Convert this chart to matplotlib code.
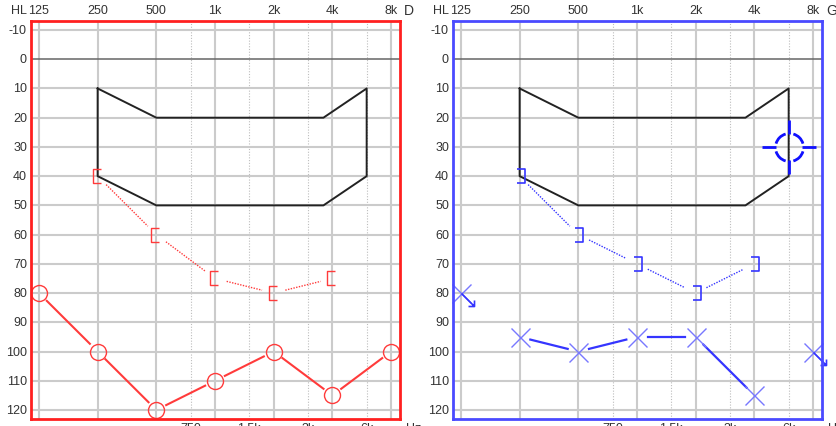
import numpy as np
import matplotlib
matplotlib.use("Agg")
import matplotlib.pyplot as plt
from matplotlib.path import Path

plt.rcParams['font.family'] = ['Liberation Sans', 'DejaVu Sans']

# axis scales
freqs = [125, 250, 500, 1000, 2000, 4000, 8000]
freq_labels = ['125', '250', '500', '1k', '2k', '4k', '8k']
half_freqs = [750, 1500, 3000, 6000]
half_labels = ['750', '1.5k', '3k', '6k']
levels = list(range(-10, 121, 10))

# speech area outline (Hz, dB HL)
banana_f = [250, 500, 3600, 6000, 6000, 3600, 500, 250, 250]
banana_db = [10, 20, 20, 10, 40, 50, 50, 40, 10]

# right ear (D)
right_air_f = [125, 250, 500, 1000, 2000, 4000, 8000]
right_air_db = [80, 100, 120, 110, 100, 115, 100]
right_bone_f = [250, 500, 1000, 2000, 4000]
right_bone_db = [40, 60, 75, 80, 75]

# left ear (G)
left_air_f = [125, 250, 500, 1000, 2000, 4000, 8000]
left_air_db = [80, 95, 100, 95, 95, 115, 100]
left_air_noresp = [True, False, False, False, False, False, True]
left_bone_f = [250, 500, 1000, 2000, 4000]
left_bone_db = [40, 60, 70, 80, 70]
left_mask_f = [6000]
left_mask_db = [30]

RED = '#ff3b3b'
BLUE = '#3535ff'
PX = 0.72  # points per pixel at 100 dpi

# marker shapes (pixel units, rescaled by matplotlib)
open_bracket = Path([(3, -7), (-5, -7), (-5, 7), (3, 7)])
close_bracket = Path([(-3, -7), (5, -7), (5, 7), (-3, 7)])
no_resp_arrow = Path([(0, 0), (13, -13), (7, -13), (13, -13), (13, -7)],
                     [Path.MOVETO, Path.LINETO, Path.MOVETO, Path.LINETO, Path.LINETO])
parts = []
for a in (0, 90, 180, 270):
    arc = Path.arc(a + 16, a + 74)
    parts.append(Path(arc.vertices * 14, arc.codes))
    c, s = np.cos(np.radians(a)), np.sin(np.radians(a))
    parts.append(Path([(13 * c, 13 * s), (27 * c, 27 * s)], [Path.MOVETO, Path.LINETO]))
mask_symbol = Path.make_compound_path(*parts)


def gapped(ax, f, db, gap, **kw):
    # connect points, leaving a gap of `gap` pixels around each symbol
    pts = ax.transData.transform(np.column_stack([f, db]))
    inv = ax.transData.inverted()
    for p0, p1 in zip(pts[:-1], pts[1:]):
        d = p1 - p0
        n = np.hypot(*d)
        if n <= 2 * gap:
            continue
        u = d / n
        seg = inv.transform(np.array([p0 + u * gap, p1 - u * gap]))
        ax.plot(seg[:, 0], seg[:, 1], **kw)


fig = plt.figure(figsize=(8.37, 4.27), dpi=100)
W, H = 837, 427


def make_panel(left_px, frame_color, side):
    ax = fig.add_axes([left_px / W, 7 / H, 369 / W, 398 / H])
    ax.set_xscale('log', base=2)
    ax.set_xlim(125 * 2 ** -0.136, 8000 * 2 ** 0.153)
    ax.set_ylim(123.08, -13.08)
    ax.set_xticks([])
    ax.set_yticks([])
    ax.minorticks_off()
    for sp in ax.spines.values():
        sp.set_color(frame_color)
        sp.set_linewidth(2)
        sp.set_zorder(6)
    for f in freqs:
        ax.axvline(f, color='#cbcbcb', lw=1.5, zorder=0)
    for f in half_freqs:
        ax.axvline(f, color='#bdbdbd', lw=0.8, ls=(0, (1, 1.5)), zorder=0)
    for lv in levels:
        if lv == 0:
            ax.axhline(lv, color='#666666', lw=1.1, zorder=1)
        else:
            ax.axhline(lv, color='#cbcbcb', lw=1.5, zorder=0)
    txt = dict(fontsize=9, color='#333333')
    for lv in levels:
        ax.annotate(str(lv), xy=(0, lv), xycoords=('axes fraction', 'data'),
                    xytext=(-4, 0), textcoords='offset pixels', ha='right', va='center', **txt)
    for f, lab in zip(freqs, freq_labels):
        ax.annotate(lab, xy=(f, 1), xycoords=('data', 'axes fraction'),
                    xytext=(0, 11), textcoords='offset pixels', ha='center', va='center', **txt)
    # bottom labels sit below the frame and are mostly cut by the image edge
    for f, lab in zip(half_freqs, half_labels):
        ax.annotate(lab, xy=(f, 0), xycoords=('data', 'axes fraction'),
                    xytext=(0, -3), textcoords='offset pixels', ha='center', va='top',
                    annotation_clip=False, **txt)
    ax.annotate('Hz', xy=(1, 0), xycoords='axes fraction', xytext=(6, -3),
                textcoords='offset pixels', ha='left', va='top', **txt)
    ax.annotate('HL', xy=(0, 1), xycoords='axes fraction', xytext=(-4, 11),
                textcoords='offset pixels', ha='right', va='center', **txt)
    ax.annotate(side, xy=(1, 1), xycoords='axes fraction', xytext=(4, 11),
                textcoords='offset pixels', ha='left', va='center', fontsize=10, color='#333333')
    ax.plot(banana_f, banana_db, color='#222222', lw=1.4, zorder=2)
    return ax


# right ear panel
axr = make_panel(31, '#ff2020', 'D')
gapped(axr, right_air_f, right_air_db, 11, color=RED, lw=1.5, zorder=3)
axr.plot(right_air_f, right_air_db, ls='none', marker='o', ms=16 * PX, mfc='none',
         mec=RED, mew=1.0, zorder=4, clip_on=False)
gapped(axr, right_bone_f, right_bone_db, 12, color=RED, lw=1.0, ls=(0, (1, 1)), zorder=3)
axr.plot(right_bone_f, right_bone_db, ls='none', marker=open_bracket, ms=14 * PX,
         mfc='none', mec=RED, mew=1.0, zorder=4)

# left ear panel
axl = make_panel(453, '#4a4aff', 'G')
conn_f = [f for f, nr in zip(left_air_f, left_air_noresp) if not nr]
conn_db = [d for d, nr in zip(left_air_db, left_air_noresp) if not nr]
gapped(axl, conn_f, conn_db, 11, color=BLUE, lw=1.6, zorder=3)
axl.plot(left_air_f, left_air_db, ls='none', marker='x', ms=19 * PX, mec='#7878ff',
         mew=1.0, zorder=4, clip_on=False)
nr_f = [f for f, nr in zip(left_air_f, left_air_noresp) if nr]
nr_db = [d for d, nr in zip(left_air_db, left_air_noresp) if nr]
axl.plot(nr_f, nr_db, ls='none', marker=no_resp_arrow, ms=26 * PX, mfc='none',
         mec=BLUE, mew=1.2, zorder=4, clip_on=False)
gapped(axl, left_bone_f, left_bone_db, 12, color=BLUE, lw=1.0, ls=(0, (1, 1)), zorder=3)
axl.plot(left_bone_f, left_bone_db, ls='none', marker=close_bracket, ms=14 * PX,
         mfc='none', mec=BLUE, mew=1.2, zorder=4)
axl.plot(left_mask_f, left_mask_db, ls='none', marker=mask_symbol, ms=54 * PX,
         mfc='none', mec='#1010ff', mew=2.0, zorder=5)

fig.savefig('out.png', dpi=100)
